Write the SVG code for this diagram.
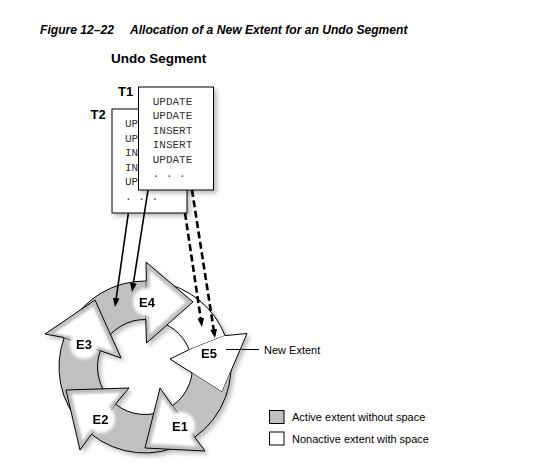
<svg xmlns="http://www.w3.org/2000/svg" width="536" height="475" viewBox="0 0 536 475">
<defs>
<style>
.title{font-family:"Liberation Sans",Arial,sans-serif;font-weight:bold;font-style:italic;font-size:12.1px;fill:#000}
.hdr{font-family:"Liberation Sans",Arial,sans-serif;font-weight:bold;font-size:13.5px;fill:#000}
.tl{font-family:"Liberation Sans",Arial,sans-serif;font-weight:bold;font-size:13px;fill:#000}
.mono{font-family:"Liberation Mono","Courier New",monospace;font-size:11px;fill:#333}
.box{fill:#fff;stroke:#000;stroke-width:1}
.lbl{font-family:"Liberation Sans",Arial,sans-serif;font-weight:bold;font-size:13px;fill:#000;text-anchor:middle}
.note{font-family:"Liberation Sans",Arial,sans-serif;font-size:11px;fill:#000}
.bg{fill:#c0c0c0;stroke:#000;stroke-width:1;stroke-linejoin:round}
.bw{fill:#fff;stroke:#000;stroke-width:1;stroke-linejoin:round}
.hg{fill:#c0c0c0;stroke:none}
.hw{fill:#fff;stroke:none}
.ho{fill:none;stroke:#000;stroke-width:1;stroke-linejoin:miter}
.solid{fill:none;stroke:#000;stroke-width:1.6;marker-end:url(#ah)}
.dash{fill:none;stroke:#000;stroke-width:2.6;stroke-dasharray:7 3.5;marker-end:url(#ah)}
</style>
<marker id="ah" markerUnits="userSpaceOnUse" markerWidth="10" markerHeight="8" refX="0" refY="3.5" orient="auto">
<path d="M0,0 L9,3.5 L0,7 z" fill="#000"/>
</marker>
<filter id="shadow" x="-10%" y="-10%" width="130%" height="130%">
<feDropShadow dx="3" dy="3" stdDeviation="2" flood-color="#000" flood-opacity="0.25"/>
</filter>
<filter id="soft" x="-20%" y="-20%" width="140%" height="140%">
<feGaussianBlur stdDeviation="1.5"/>
</filter>
<mask id="e1mask" maskUnits="userSpaceOnUse" x="0" y="0" width="536" height="475">
<rect x="0" y="0" width="536" height="475" fill="#fff"/>
<polygon points="225.07,335.62 247,333.5 222,392 170,359 189.23,349.67" fill="#000"/>
</mask>
</defs>

<rect x="0" y="0" width="536" height="475" fill="#fff"/>

<g id="title">
<text class="title" x="40" y="34">Figure 12–22<tspan x="130">Allocation of a New Extent for an Undo Segment</tspan></text>
</g>
<g id="undo-segment-label">
<text class="hdr" x="111" y="63">Undo Segment</text>
</g>

<g id="T2">
<rect class="box" x="112" y="109" width="75" height="104" filter="url(#shadow)"/>
<text class="tl" x="90.5" y="119">T2</text>
<text class="mono" x="125" y="127">UP</text>
<text class="mono" x="125" y="141.5">UP</text>
<text class="mono" x="125" y="156">IN</text>
<text class="mono" x="125" y="170.5">IN</text>
<text class="mono" x="125" y="185">UP</text>
<text class="mono" x="125" y="199.5">. . .</text>
</g>

<g id="T1">
<rect class="box" x="138.5" y="87" width="75" height="103" filter="url(#shadow)"/>
<text class="tl" x="118" y="96">T1</text>
<text class="mono" x="152.7" y="104.5">UPDATE</text>
<text class="mono" x="152.7" y="119">UPDATE</text>
<text class="mono" x="152.7" y="133.5">INSERT</text>
<text class="mono" x="152.7" y="148">INSERT</text>
<text class="mono" x="152.7" y="162.5">UPDATE</text>
<text class="mono" x="152.7" y="177">. . .</text>
</g>

<g id="ring" filter="url(#shadow)">
<g id="E5">
<path class="bw" d="M158.30,282.03 A86,86 0 0 1 225.07,335.62 L189.23,349.67 A47.5,47.5 0 0 0 152.35,320.07 Z"/>
<polygon class="hw" points="225.07,335.62 247,333.5 222,392 170,359 189.23,349.67"/>
<polyline class="ho" points="225.07,335.62 247,333.5 222,392 170,359 189.23,349.67"/>
<text class="lbl" x="209" y="358">E5</text>
</g>
<g id="E4">
<path class="bg" d="M69.07,326.62 A86,86 0 0 1 146.35,281.01 L145.75,319.51 A47.5,47.5 0 0 0 103.06,344.70 Z"/>
<polygon class="hg" points="146.35,281.01 146,262 193,302 146.5,343 145.75,319.51"/>
<polygon class="hw" filter="url(#soft)" transform="translate(161.8,302.3) scale(0.78) translate(-161.8,-302.3)" points="146.35,281.01 146,262 193,302 146.5,343 145.75,319.51"/>
<circle cx="147" cy="302" r="14" fill="#fff" filter="url(#soft)"/>
<polyline class="ho" points="146.35,281.01 146,262 193,302 146.5,343 145.75,319.51"/>
<text class="lbl" x="147" y="306.7">E4</text>
</g>
<g id="E3">
<path class="bg" d="M82.62,426.20 A86,86 0 0 1 64.19,337.59 L100.36,350.75 A47.5,47.5 0 0 0 110.54,399.70 Z"/>
<polygon class="hg" points="64.19,337.59 45,334 95,300 121,358 100.36,350.75"/>
<polygon class="hw" filter="url(#soft)" transform="translate(87,330.7) scale(0.78) translate(-87,-330.7)" points="64.19,337.59 45,334 95,300 121,358 100.36,350.75"/>
<circle cx="84" cy="345" r="14" fill="#fff" filter="url(#soft)"/>
<polyline class="ho" points="64.19,337.59 45,334 95,300 121,358 100.36,350.75"/>
<text class="lbl" x="84" y="349.3">E3</text>
</g>
<g id="E2">
<path class="bg" d="M184.44,443.42 A86,86 0 0 1 91.46,434.30 L115.43,404.17 A47.5,47.5 0 0 0 166.78,409.21 Z"/>
<polygon class="hg" points="91.46,434.30 80,450 66,390 129,388 115.43,404.17"/>
<polygon class="hw" filter="url(#soft)" transform="translate(91.7,409.3) scale(0.78) translate(-91.7,-409.3)" points="91.46,434.30 80,450 66,390 129,388 115.43,404.17"/>
<circle cx="101" cy="419" r="14" fill="#fff" filter="url(#soft)"/>
<polyline class="ho" points="91.46,434.30 80,450 66,390 129,388 115.43,404.17"/>
<text class="lbl" x="100.5" y="424">E2</text>
</g>
<g id="E1">
<path class="bg" mask="url(#e1mask)" d="M228.66,347.07 A86,86 0 0 1 194.70,437.18 L172.45,405.76 A47.5,47.5 0 0 0 191.21,355.99 Z"/>
<polygon class="hg" points="194.70,437.18 205,451 145,448 160,388 172.45,405.76"/>
<polygon class="hw" filter="url(#soft)" transform="translate(170,429) scale(0.78) translate(-170,-429)" points="194.70,437.18 205,451 145,448 160,388 172.45,405.76"/>
<circle cx="181" cy="426" r="14" fill="#fff" filter="url(#soft)"/>
<polyline class="ho" points="194.70,437.18 205,451 145,448 160,388 172.45,405.76"/>
<text class="lbl" x="180" y="430.7">E1</text>
</g>
</g>

<g id="connectors">
<line class="solid" x1="128.3" y1="213.3" x2="116.27" y2="298.09"/>
<line class="solid" x1="148" y1="190" x2="133.40" y2="283.11"/>
<line class="dash" x1="185" y1="213" x2="200.67" y2="318.10"/>
<line class="dash" x1="192" y1="190" x2="213.62" y2="329.11"/>
<line x1="226" y1="349.5" x2="259" y2="349.5" stroke="#000" stroke-width="1"/>
</g>

<g id="new-extent-label">
<text class="note" x="264" y="354">New Extent</text>
</g>

<g id="legend-active">
<rect x="269.5" y="410.5" width="14.5" height="13" fill="#c0c0c0" stroke="#000" stroke-width="1"/>
<text class="note" x="292" y="421">Active extent without space</text>
</g>
<g id="legend-nonactive">
<rect x="269.5" y="432" width="14.5" height="13" fill="#fff" stroke="#000" stroke-width="1"/>
<text class="note" x="292" y="442.5">Nonactive extent with space</text>
</g>
</svg>
